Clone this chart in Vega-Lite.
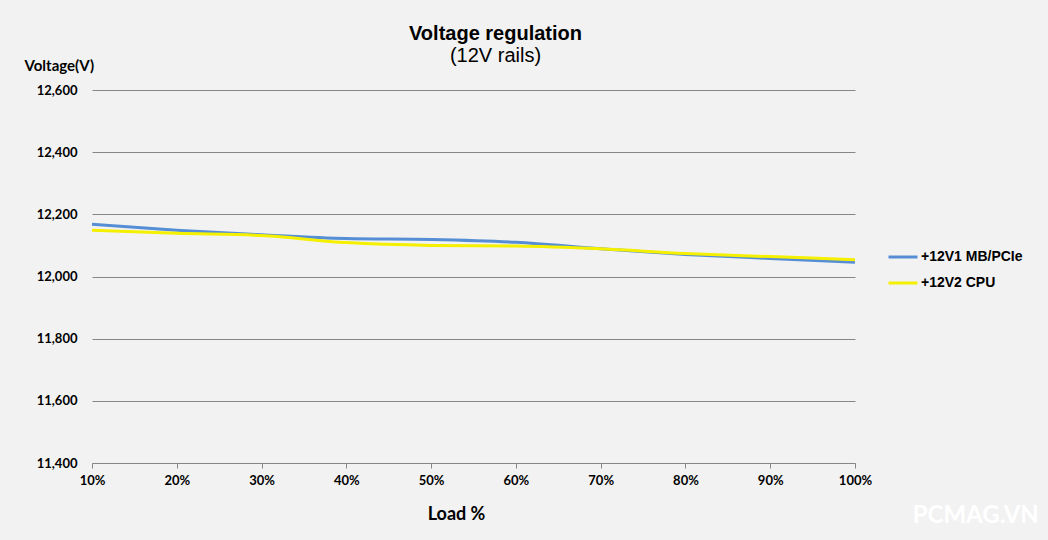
{
  "$schema": "https://vega.github.io/schema/vega-lite/v6.json",
  "width": 763,
  "height": 373,
  "autosize": {"type": "none"},
  "padding": {"left": 92, "top": 90, "right": 193, "bottom": 77},
  "background": "#f2f2f2",
  "title": {
    "text": "Voltage regulation",
    "subtitle": "(12V rails)",
    "anchor": "middle",
    "frame": "group",
    "dx": 22,
    "offset": -8,
    "font": "Liberation Sans",
    "fontSize": 20,
    "fontWeight": "bold",
    "color": "#000000",
    "subtitleFont": "Liberation Sans",
    "subtitleFontSize": 20,
    "subtitleColor": "#000000",
    "subtitlePadding": 2
  },
  "config": {
    "view": {"stroke": null},
    "font": "Lato"
  },
  "datasets": {
    "rails": [
      {"load": 10, "rail": "+12V1 MB/PCIe", "voltage": 12168},
      {"load": 20, "rail": "+12V1 MB/PCIe", "voltage": 12149},
      {"load": 30, "rail": "+12V1 MB/PCIe", "voltage": 12134},
      {"load": 40, "rail": "+12V1 MB/PCIe", "voltage": 12122},
      {"load": 50, "rail": "+12V1 MB/PCIe", "voltage": 12119},
      {"load": 60, "rail": "+12V1 MB/PCIe", "voltage": 12110},
      {"load": 70, "rail": "+12V1 MB/PCIe", "voltage": 12089},
      {"load": 80, "rail": "+12V1 MB/PCIe", "voltage": 12071},
      {"load": 90, "rail": "+12V1 MB/PCIe", "voltage": 12058},
      {"load": 100, "rail": "+12V1 MB/PCIe", "voltage": 12046},
      {"load": 10, "rail": "+12V2 CPU", "voltage": 12149},
      {"load": 20, "rail": "+12V2 CPU", "voltage": 12139},
      {"load": 30, "rail": "+12V2 CPU", "voltage": 12132},
      {"load": 40, "rail": "+12V2 CPU", "voltage": 12109},
      {"load": 50, "rail": "+12V2 CPU", "voltage": 12100},
      {"load": 60, "rail": "+12V2 CPU", "voltage": 12098},
      {"load": 70, "rail": "+12V2 CPU", "voltage": 12089},
      {"load": 80, "rail": "+12V2 CPU", "voltage": 12074},
      {"load": 90, "rail": "+12V2 CPU", "voltage": 12064},
      {"load": 100, "rail": "+12V2 CPU", "voltage": 12054}
    ],
    "mark": [
      {"label": "PCMAG.VN", "load": 106.8, "voltage": 11230}
    ]
  },
  "layer": [
    {
      "data": {"name": "rails"},
      "mark": {"type": "line", "strokeWidth": 3, "interpolate": "monotone"},
      "encoding": {
        "x": {
          "field": "load",
          "type": "quantitative",
          "scale": {"domain": [10, 100], "nice": false, "zero": false},
          "axis": {
            "values": [10, 20, 30, 40, 50, 60, 70, 80, 90, 100],
            "labelExpr": "datum.value + '%'",
            "grid": false,
            "domainColor": "#868686",
            "tickColor": "#868686",
            "tickSize": 5,
            "labelPadding": 6,
            "labelFont": "Lato",
            "labelFontSize": 13,
            "labelFontWeight": "bold",
            "labelColor": "#000000",
            "labelFlush": false,
            "title": "Load %",
            "titleFont": "Lato",
            "titleFontSize": 18,
            "titleFontWeight": "bold",
            "titleColor": "#000000",
            "titleX": 364,
            "titleY": 51,
            "titleAlign": "center",
            "titleBaseline": "middle"
          }
        },
        "y": {
          "field": "voltage",
          "type": "quantitative",
          "scale": {"domain": [11400, 12600], "nice": false, "zero": false},
          "axis": {
            "values": [11400, 11600, 11800, 12000, 12200, 12400, 12600],
            "labelExpr": "format(datum.value, ',d')",
            "domain": false,
            "ticks": false,
            "labelPadding": 15,
            "gridColor": "#868686",
            "gridWidth": 1,
            "labelFont": "Lato",
            "labelFontSize": 13,
            "labelFontWeight": "bold",
            "labelColor": "#000000",
            "title": "Voltage(V)",
            "titleAngle": 0,
            "titleAlign": "left",
            "titleBaseline": "middle",
            "titleX": -68,
            "titleY": -25,
            "titleFont": "Lato",
            "titleFontSize": 15,
            "titleFontWeight": "bold",
            "titleColor": "#000000"
          }
        },
        "color": {
          "field": "rail",
          "type": "nominal",
          "scale": {"domain": ["+12V1 MB/PCIe", "+12V2 CPU"], "range": ["#558ED5", "#F5EF00"]},
          "legend": {
            "title": null,
            "orient": "none",
            "legendX": 795,
            "legendY": 151,
            "symbolType": "stroke",
            "symbolStrokeWidth": 3,
            "symbolSize": 841,
            "labelFont": "Liberation Sans",
            "labelFontSize": 14,
            "labelFontWeight": "bold",
            "labelColor": "#000000",
            "labelOffset": 2,
            "rowPadding": 3
          }
        }
      }
    },
    {
      "data": {"name": "mark"},
      "mark": {"type": "text", "align": "left", "baseline": "middle", "font": "Lato", "fontSize": 24, "fontWeight": "bold", "color": "#ffffff"},
      "encoding": {
        "x": {"field": "load", "type": "quantitative"},
        "y": {"field": "voltage", "type": "quantitative"},
        "text": {"field": "label"}
      }
    }
  ]
}
